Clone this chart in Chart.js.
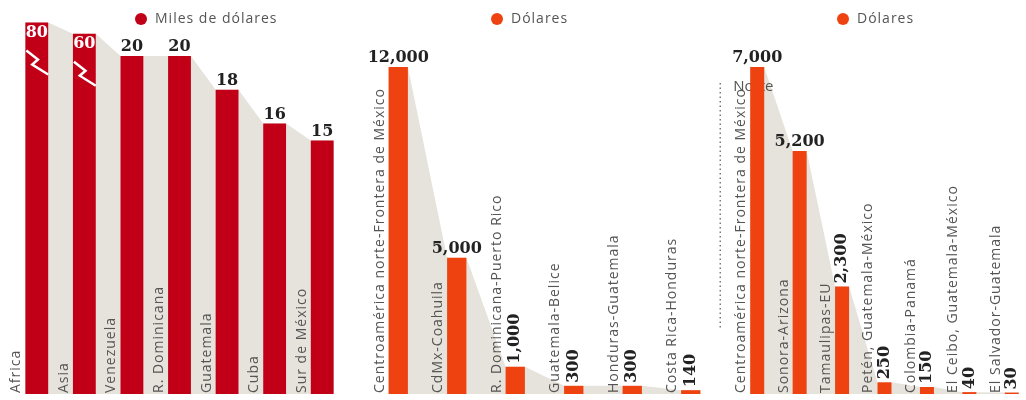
<!DOCTYPE html>
<html>
<head>
<meta charset="utf-8">
<script src="https://cdn.jsdelivr.net/npm/chart.js@4/dist/chart.umd.min.js"></script>
<style>
  html, body { margin: 0; padding: 0; background: #fff; overflow: hidden; width: 1026px; height: 400px; }
  canvas { position: absolute; top: 0; }
</style>
</head>
<body>
<canvas id="panel1" width="350" height="400" style="left:0px"></canvas>
<canvas id="panel2" width="372" height="400" style="left:350px"></canvas>
<canvas id="panel3" width="320" height="400" style="left:715px"></canvas>
<script>
// Panel 1: miles de dólares
const p1Labels = ['Africa', 'Asia', 'Venezuela', 'R. Dominicana', 'Guatemala', 'Cuba', 'Sur de México'];
const p1Values = [80, 60, 20, 20, 18, 16, 15];
const p1Break = 20; // axis is cut above this value

// Panel 2: dólares
const p2Labels = ['Centroamérica norte-Frontera de México', 'CdMx-Coahuila', 'R. Dominicana-Puerto Rico',
  'Guatemala-Belice', 'Honduras-Guatemala', 'Costa Rica-Honduras'];
const p2Values = [12000, 5000, 1000, 300, 300, 140];

// Panel 3: dólares
const p3Labels = ['Centroamérica norte-Frontera de México', 'Sonora-Arizona', 'Tamaulipas-EU',
  'Petén, Guatemala-México', 'Colombia-Panamá', 'El Ceibo, Guatemala-México', 'El Salvador-Guatemala'];
const p3Values = [7000, 5200, 2300, 250, 150, 40, 30];

const RED = '#c10018';
const ORANGE = '#ee4311';
const SHADE = '#e6e3dc';
const NUM_FONT = 'bold 16px "DejaVu Serif"';
const LABEL_FONT = '14px "Open Sans"';

// compress values above the axis break
function broken(v) {
  return v > p1Break ? p1Break + (v - p1Break) * 0.033 : v;
}

const fmt = v => v.toLocaleString('en-US');

const panelText = {
  id: 'panelText',
  beforeDatasetsDraw(chart, args, o) {
    const ctx = chart.ctx;
    const bars = chart.getDatasetMeta(0).data;
    const bottom = chart.chartArea.bottom;
    ctx.save();
    // shadow behind the bars, corner to corner along the tops
    ctx.fillStyle = SHADE;
    ctx.beginPath();
    ctx.moveTo(bars[0].x - bars[0].width / 2, bottom);
    bars.forEach(bar => {
      ctx.lineTo(bar.x - bar.width / 2, bar.y);
      ctx.lineTo(bar.x + bar.width / 2, bar.y);
    });
    const last = bars[bars.length - 1];
    ctx.lineTo(last.x + last.width / 2, bottom);
    ctx.closePath();
    ctx.fill();

    if (o.note) {
      const left = bars[0].x - bars[0].width / 2;
      // dotted guide
      ctx.strokeStyle = '#666';
      ctx.lineWidth = 1.3;
      ctx.setLineDash([1.5, 3]);
      ctx.beginPath();
      ctx.moveTo(left - 30, 83);
      ctx.lineTo(left - 30, 328);
      ctx.stroke();
      ctx.setLineDash([]);
      ctx.font = '15px "Open Sans"';
      ctx.fillStyle = '#555';
      ctx.textBaseline = 'alphabetic';
      ctx.fillText(o.note, left - 17, 91);
    }
    ctx.restore();
  },
  afterDatasetsDraw(chart, args, o) {
    const ctx = chart.ctx;
    const bars = chart.getDatasetMeta(0).data;
    const bottom = chart.chartArea.bottom;
    ctx.save();
    bars.forEach((bar, i) => {
      const left = bar.x - bar.width / 2;
      // category name, vertical, left of the bar
      ctx.save();
      ctx.translate(left - 2, bottom);
      ctx.rotate(-Math.PI / 2);
      ctx.font = LABEL_FONT;
      ctx.letterSpacing = '1px';
      ctx.fillStyle = '#555';
      ctx.textAlign = 'left';
      ctx.textBaseline = 'bottom';
      ctx.fillText(chart.data.labels[i], 1, 0);
      ctx.restore();

      // value label
      const txt = fmt(o.values[i]);
      ctx.font = NUM_FONT;
      if (o.values[i] > (o.breakAt || Infinity)) {
        // broken bar: white number inside, zigzag cut
        ctx.save();
        ctx.beginPath();
        ctx.rect(left, bar.y, bar.width, 30);
        ctx.clip();
        ctx.fillStyle = '#fff';
        ctx.textAlign = 'center';
        ctx.textBaseline = 'top';
        ctx.fillText(txt, bar.x, bar.y + 2);
        ctx.restore();
        ctx.save();
        ctx.strokeStyle = '#fff';
        ctx.lineWidth = 2.5;
        ctx.beginPath();
        ctx.moveTo(left + 1, bar.y + 28);
        ctx.lineTo(left + bar.width * 0.55, bar.y + 37);
        ctx.lineTo(left + bar.width * 0.3, bar.y + 42);
        ctx.lineTo(left + bar.width, bar.y + 52);
        ctx.stroke();
        ctx.restore();
      } else if (i >= o.rotateFrom) {
        ctx.save();
        ctx.translate(bar.x, bar.y - 3);
        ctx.rotate(-Math.PI / 2);
        ctx.fillStyle = '#222';
        ctx.textAlign = 'left';
        ctx.textBaseline = 'middle';
        ctx.fillText(txt, 0, 0);
        ctx.restore();
      } else {
        ctx.fillStyle = '#222';
        ctx.textAlign = 'center';
        ctx.textBaseline = 'bottom';
        ctx.fillText(txt, bar.x, bar.y - 1);
      }
    });

    // legend
    const lg = o.legend;
    ctx.fillStyle = lg.color;
    ctx.beginPath();
    ctx.arc(lg.x, lg.y, 6, 0, Math.PI * 2);
    ctx.fill();
    ctx.font = LABEL_FONT;
    ctx.letterSpacing = '1px';
    ctx.fillStyle = '#555';
    ctx.textAlign = 'left';
    ctx.textBaseline = 'middle';
    ctx.fillText(lg.text, lg.x + 14, lg.y);
    ctx.restore();
  }
};

function makePanel(id, labels, shown, values, cfg) {
  return new Chart(document.getElementById(id), {
    type: 'bar',
    data: {
      labels: labels,
      datasets: [
        {
          data: shown,
          backgroundColor: cfg.color,
          barPercentage: cfg.barPct,
          categoryPercentage: 1
        }
      ]
    },
    options: {
      responsive: false,
      animation: false,
      layout: { padding: { left: cfg.padL, right: cfg.padR, top: 20, bottom: 6 } },
      plugins: {
        legend: { display: false },
        tooltip: { enabled: false },
        panelText: {
          values: values,
          rotateFrom: cfg.rotateFrom,
          breakAt: cfg.breakAt,
          legend: cfg.legend,
          note: cfg.note
        }
      },
      scales: {
        x: { display: false },
        y: { display: false, min: 0, max: cfg.max }
      }
    },
    plugins: [panelText]
  });
}

makePanel('panel1', p1Labels, p1Values.map(broken), p1Values, {
  color: RED, barPct: 0.48, padL: 13, padR: 4, max: 22.13, rotateFrom: 99, breakAt: p1Break,
  legend: { x: 141, y: 19, text: 'Miles de dólares', color: RED }
});

makePanel('panel2', p2Labels, p2Values, p2Values, {
  color: ORANGE, barPct: 0.33, padL: 19, padR: 2, max: 13725, rotateFrom: 2,
  legend: { x: 147, y: 19, text: 'Dólares', color: ORANGE }
});

makePanel('panel3', p3Labels, p3Values, p3Values, {
  color: ORANGE, barPct: 0.33, padL: 21, padR: 2, max: 8006, rotateFrom: 2,
  legend: { x: 128, y: 19, text: 'Dólares', color: ORANGE },
  note: 'Norte'
});
</script>
</body>
</html>
